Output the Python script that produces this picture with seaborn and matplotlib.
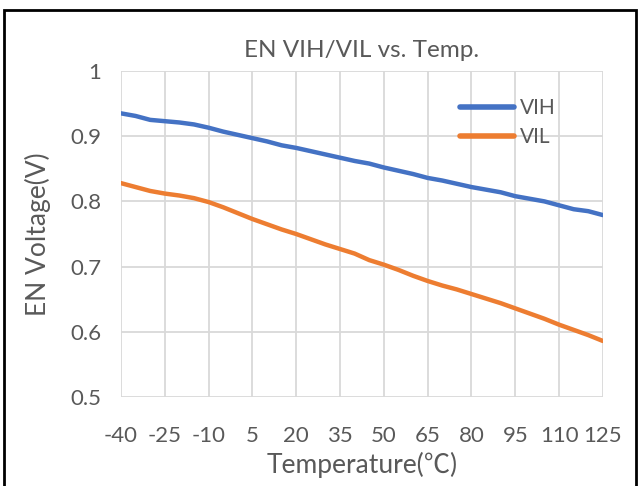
import numpy as np
import pandas as pd
import matplotlib
matplotlib.use('Agg')
import matplotlib.pyplot as plt
import seaborn as sns
from matplotlib.patches import Rectangle

# temperatures (every 5 C) and measured thresholds
temps = list(range(-40, 130, 5))
vih = [0.935, 0.931, 0.925, 0.923, 0.921, 0.918, 0.913, 0.907, 0.902, 0.897,
       0.892, 0.886, 0.882, 0.877, 0.872, 0.867, 0.862, 0.858, 0.852, 0.847,
       0.842, 0.836, 0.832, 0.827, 0.822, 0.818, 0.814, 0.808, 0.804, 0.800,
       0.794, 0.788, 0.785, 0.779]
vil = [0.828, 0.822, 0.816, 0.812, 0.809, 0.805, 0.799, 0.791, 0.782, 0.773,
       0.765, 0.757, 0.750, 0.742, 0.734, 0.727, 0.720, 0.710, 0.703, 0.695,
       0.686, 0.678, 0.671, 0.665, 0.658, 0.651, 0.644, 0.636, 0.628, 0.620,
       0.611, 0.603, 0.595, 0.586]
x_ticks = list(range(-40, 126, 15))
y_ticks = [0.5, 0.6, 0.7, 0.8, 0.9, 1.0]
y_tick_labels = ['0.5', '0.6', '0.7', '0.8', '0.9', '1']

df = pd.DataFrame({
    'Temp': temps * 2,
    'Voltage': vih + vil,
    'Series': ['VIH'] * len(temps) + ['VIL'] * len(temps),
})

sns.set_theme(style='white')
plt.rcParams['font.family'] = ['Lato', 'Noto Sans CJK SC', 'DejaVu Sans']
text_col = '#595959'

fig = plt.figure(figsize=(6.4, 4.86), dpi=100)
ax = fig.add_axes([0.189, 0.183, 0.753, 0.671])

sns.lineplot(data=df, x='Temp', y='Voltage', hue='Series',
             palette={'VIH': '#4472C4', 'VIL': '#ED7D31'},
             linewidth=3.2, ax=ax)

ax.set_xlim(-40, 125)
ax.set_ylim(0.5, 1.0)
ax.set_xticks(x_ticks)
ax.set_xticklabels([str(t) for t in x_ticks])
ax.set_yticks(y_ticks)
ax.set_yticklabels(y_tick_labels)
ax.grid(True, color='#D9D9D9', linewidth=1.3)
ax.set_axisbelow(True)
for s in ax.spines.values():
    s.set_visible(False)
ax.tick_params(axis='both', length=0, labelsize=16, colors=text_col)
ax.tick_params(axis='x', pad=21)
ax.tick_params(axis='y', pad=14)

ax.set_title('EN VIH/VIL vs. Temp.', fontsize=17.5, color=text_col, pad=10)
ax.set_xlabel('Temperature(℃)', fontsize=19, color=text_col, labelpad=4)
ax.set_ylabel('EN Voltage(V)', fontsize=19, color=text_col, labelpad=14)

leg = ax.legend(loc='upper left', bbox_to_anchor=(0.665, 0.975), frameon=False,
                fontsize=15, handlelength=2.6, handletextpad=0.25,
                labelspacing=0.45)
for t in leg.get_texts():
    t.set_color(text_col)
for line in leg.get_lines():
    line.set_linewidth(4)

# outer frame around the chart
fig.patches.append(Rectangle((4 / 640, -0.01), 632 / 640, 1 - 10 / 486 + 0.01,
                             transform=fig.transFigure, fill=False,
                             edgecolor='black', linewidth=2))

fig.savefig('out.png', dpi=100)
